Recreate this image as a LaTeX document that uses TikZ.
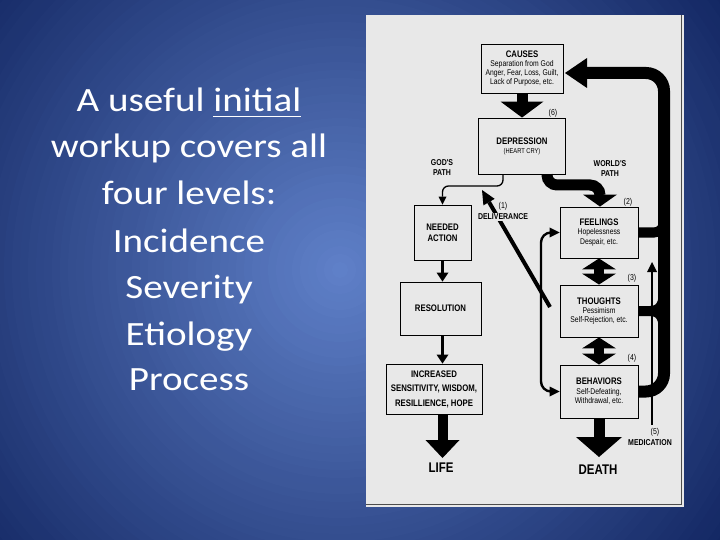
\documentclass[tikz,border=0pt]{standalone}
\usepackage{fontspec}
\usetikzlibrary{arrows.meta}
\newfontfamily\cond[FakeStretch=0.82]{Liberation Sans}
\newfontfamily\slidefont[FakeStretch=1.15]{Carlito}
\newcommand\dgT{\cond\bfseries\fontsize{9.5}{11}\selectfont}
\newcommand\dgS{\cond\mdseries\fontsize{8.3}{9.3}\selectfont}
\newcommand\dgXS{\cond\mdseries\fontsize{7}{8}\selectfont}
\newcommand\dgL{\cond\bfseries\fontsize{8.5}{10.5}\selectfont}
\newcommand\dgN{\cond\mdseries\fontsize{8.5}{10}\selectfont}
\newcommand\dgB{\cond\bfseries\fontsize{14}{16}\selectfont}
\newcommand\slideul[1]{\setbox0\hbox{#1}\rlap{\rule[-5.5pt]{\wd0}{1.8pt}}\box0}
\definecolor{bginner}{RGB}{95,128,200}
\definecolor{bgouter}{RGB}{18,38,98}
\definecolor{paper}{RGB}{232,232,232}
\tikzset{
  box/.style={draw=black, line width=0.9pt, inner sep=0pt, align=center, font=\dgS},
  slide/.style={anchor=base, text=white, font=\slidefont\fontsize{34}{40}\selectfont},
  thickarrow/.style={line width=11pt, -{Triangle[width=43pt,length=16pt,line width=0pt]}},
  medarrow/.style={line width=3pt, -{Triangle[width=12pt,length=9pt,line width=0pt]}},
  lifearrow/.style={line width=10pt, -{Triangle[width=34pt,length=18pt,line width=0pt]}},
  deatharrow/.style={line width=11pt, -{Triangle[width=46pt,length=20pt,line width=0pt]}},
  dblarrow/.style={line width=10pt, {Triangle[width=34pt,length=11pt,line width=0pt]}-{Triangle[width=34pt,length=11pt,line width=0pt]}},
  worldarrow/.style={line width=11pt, rounded corners=10pt, -{Triangle[width=34pt,length=12pt,line width=0pt]}},
  godarrow/.style={line width=1.3pt, rounded corners=6pt, -{Triangle[width=8pt,length=8pt,line width=0pt]}},
  delivarrow/.style={line width=4pt, -{Triangle[width=13pt,length=14pt,line width=0pt]}},
  bracketarrow/.style={line width=2.4pt, rounded corners=10pt, {Triangle[width=10pt,length=10pt,line width=0pt]}-{Triangle[width=10pt,length=10pt,line width=0pt]}},
  medline/.style={line width=2pt, -{Triangle[width=10pt,length=10pt,line width=0pt]}},
  looparrow/.style={line width=12pt, rounded corners=18pt, -{Triangle[width=30pt,length=22pt,line width=0pt]}},
  stub/.style={line width=10pt, rounded corners=10pt},
  lbl/.style={font=\dgL, align=center, inner sep=0pt},
  num/.style={font=\dgN, inner sep=0pt},
}
\begin{document}
\begin{tikzpicture}[x=1pt,y=-1pt]
\useasboundingbox (0,0) rectangle (720,540);
% background gradient
\begin{scope}
\clip (0,0) rectangle (720,540);
\fill[bgouter] (0,0) rectangle (720,540);
\foreach \i in {0,...,59}{
  \pgfmathsetmacro\rr{480-8*\i}
  \pgfmathtruncatemacro\pp{\i*100/59}
  \fill[bginner!\pp!bgouter] (340,270) circle (\rr pt);
}
\end{scope}
% slide text
\node[slide] (t1) at (189,112) {A useful \slideul{initial}};
\node[slide] (t2) at (189,158) {workup covers all};
\node[slide] (t3) at (189,205) {four levels:};
\node[slide] (t4) at (189,252) {Incidence};
\node[slide] (t5) at (189,298) {Severity};
\node[slide] (t6) at (189,345) {Etiology};
\node[slide] (t7) at (189,390) {Process};
% paper
\fill[paper] (366,15) rectangle (684,507);
\draw[black!70, line width=1pt] (681,15) -- (681,504) -- (366,504);
% boxes
\node[box, minimum width=82pt, minimum height=49pt] (causes) at (522,68.5)
  {{\dgT CAUSES}\\[0pt]Separation from God\\Anger, Fear, Loss, Guilt,\\Lack of Purpose, etc.};
\node[box, font=\dgXS, minimum width=87pt, minimum height=56pt] (depression) at (522,146)
  {{\dgT DEPRESSION}\\[1pt](HEART CRY)};
\node[box, font=\dgT, minimum width=57pt, minimum height=55pt] (needed) at (442.5,232.5)
  {NEEDED\\ACTION};
\node[box, font=\dgT, minimum width=81pt, minimum height=53pt] (resolution) at (440.5,308.5)
  {RESOLUTION};
\node[box, font=\dgT\fontsize{9.5}{14.5}\selectfont, minimum width=96pt, minimum height=50pt] (increased) at (434,389)
  {INCREASED\\SENSITIVITY, WISDOM,\\RESILLIENCE, HOPE};
\node[box, minimum width=78pt, minimum height=51pt] (feelings) at (599,232.5)
  {{\dgT FEELINGS}\\[0pt]Hopelessness\\Despair, etc.};
\node[box, minimum width=78pt, minimum height=52pt] (thoughts) at (599,311)
  {{\dgT THOUGHTS}\\[0pt]Pessimism\\Self-Rejection, etc.};
\node[box, minimum width=78pt, minimum height=53pt] (behaviors) at (599,391.5)
  {{\dgT BEHAVIORS}\\[0pt]Self-Defeating,\\Withdrawal, etc.};
% coordinates
\coordinate (lifetip) at (442.5,458);
\coordinate (deathtip) at (599,457);
\coordinate (w1) at (547,185);
\coordinate (w2) at (600,185);
\coordinate (g1) at (503,186);
\coordinate (d0) at (550,307);
\coordinate (dtip) at (482,190);
\coordinate (bx) at (541,0);
\coordinate (m0) at (652,425);
\coordinate (m1) at (652,262);
\coordinate (lb) at (664,391.5);
\coordinate (lt) at (664,73);
\coordinate (lend) at (565,73);
\coordinate (fs) at (664,232.5);
\coordinate (fs2) at (664,205);
\coordinate (ts) at (650,311);
% connectors
\draw[thickarrow] (causes) -- (depression);
\draw[medarrow] (needed.south) -- (needed.south |- resolution.north);
\draw[medarrow] (needed.south |- resolution.south) -- (needed.south |- increased.north);
\draw[lifearrow] (needed.south |- increased.south) -- (lifetip);
\draw[deatharrow] (behaviors.south) -- (deathtip);
\draw[dblarrow] (feelings) -- (thoughts);
\draw[dblarrow] (thoughts) -- (behaviors);
\draw[worldarrow] (depression.south -| w1) -- (w1) -- (w2) -- (feelings.north -| w2);
\draw[godarrow] (depression.south -| g1) -- (g1) -- (g1 -| needed.north) -- (needed.north);
\draw[delivarrow] (d0) -- (dtip);
\draw[bracketarrow] (feelings.west) -- (bx |- feelings.west) -- (bx |- behaviors.west) -- (behaviors.west);
\draw[medline] (m0) -- (m1);
\draw[looparrow] (behaviors.east) -- (lb) -- (lt) -- (lend);
\draw[stub] (feelings.east) -- (fs) -- (fs2);
\draw[line width=10pt] (thoughts.east) -- (ts) .. controls (661,311) and (664,303) .. (664,290);
\draw[line width=10pt] (ts) .. controls (661,311) and (664,319) .. (664,332);
% labels
\node[lbl] (godpath) at (442,167.5) {GOD'S\\PATH};
\node[lbl] (worldpath) at (610,168.5) {WORLD'S\\PATH};
\node[num] (n6) at (553,113) {(6)};
\node[num] (n2) at (628,202) {(2)};
\node[num] (n1) at (503,206) {(1)};
\node[lbl, fill=paper, inner sep=1pt] (deliv) at (503,217) {DELIVERANCE};
\node[num] (n3) at (632,278) {(3)};
\node[num] (n4) at (632,358) {(4)};
\node[num] (n5) at (655,432) {(5)};
\node[lbl] (medic) at (650,443) {MEDICATION};
\node[font=\dgB, inner sep=0pt] (life) at (441,468) {LIFE};
\node[font=\dgB, inner sep=0pt] (death) at (598,470) {DEATH};
\end{tikzpicture}
\end{document}
